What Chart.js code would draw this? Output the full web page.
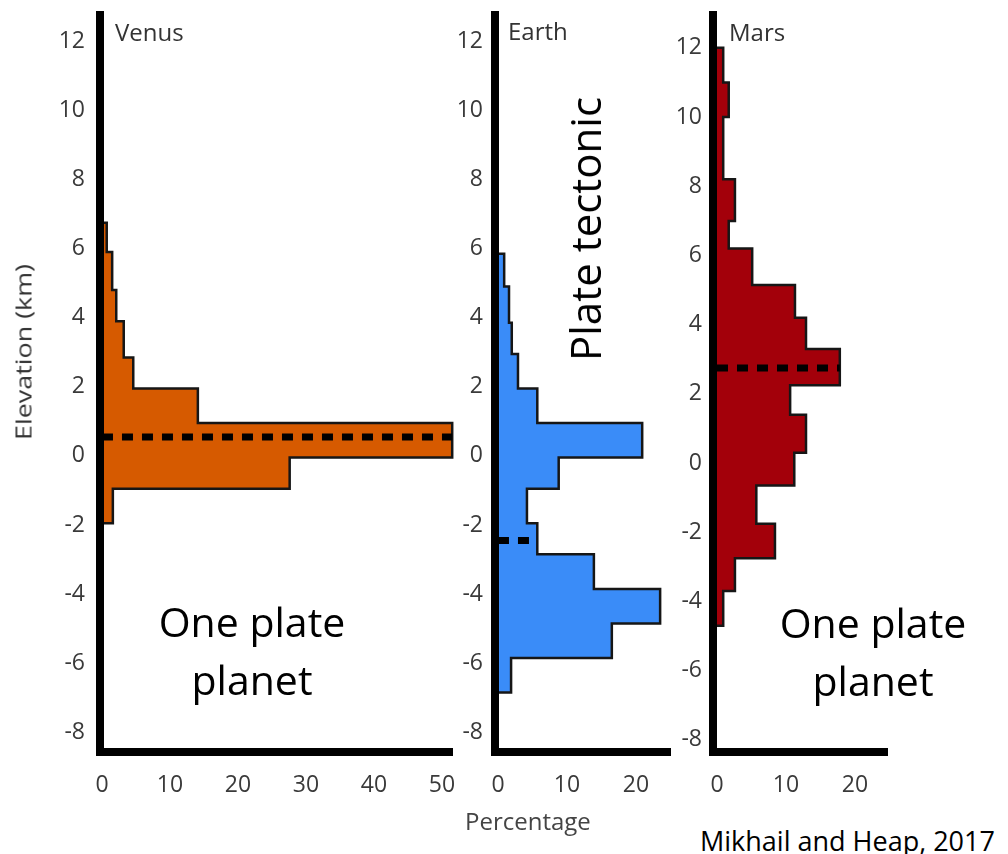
<!DOCTYPE html>
<html>
<head>
<meta charset="utf-8">
<title>Elevation histograms</title>
<script src="https://cdn.jsdelivr.net/npm/chart.js@4.4.1/dist/chart.umd.min.js"></script>
<style>
  body { margin: 0; background: #fff; }
  #wrap { position: relative; width: 1008px; height: 854px; overflow: hidden; font-family: "Open Sans", sans-serif; }
  canvas { position: absolute; top: 0; }
  .lbl { position: absolute; white-space: nowrap; line-height: 1; }
  .planet { font-size: 24px; color: #333; }
  .big { font-size: 41px; line-height: 58px; color: #000; text-align: center; }
</style>
</head>
<body>
<div id="wrap">
  <canvas id="venus" width="470" height="800" style="left:0px"></canvas>
  <canvas id="earth" width="245" height="800" style="left:440px"></canvas>
  <canvas id="mars" width="250" height="800" style="left:650px"></canvas>

  <div class="lbl planet" style="left:115px; top:20px">Venus</div>
  <div class="lbl planet" style="left:508px; top:19px">Earth</div>
  <div class="lbl planet" style="left:729px; top:20px">Mars</div>

  <div class="lbl" style="font-size:21px; color:#333; left:24px; top:352px; transform: translate(-50%, -50%) rotate(-90deg) scale(1.28, 1)">Elevation (km)</div>
  <div class="lbl" style="font-size:24px; color:#444; left:465px; top:809px">Percentage</div>

  <div class="lbl big" style="left:252px; top:592px; transform: translateX(-50%)">One plate<br>planet</div>
  <div class="lbl big" style="left:873px; top:593px; transform: translateX(-50%)">One plate<br>planet</div>
  <div class="lbl big" style="left:585px; top:229px; font-size:42px; line-height:1; transform: translate(-50%, -50%) rotate(-90deg)">Plate tectonic</div>

  <div class="lbl" style="font-size:27px; color:#000; left:700px; top:827px">Mikhail and Heap, 2017</div>
</div>

<script>
// elevation bin edges (km, bottom to top) and share of surface (%) per bin
const venusEdges = [-1.95, -0.95, -0.05, 0.95, 1.95, 2.85, 3.9, 4.8, 5.9, 6.75];
const venusPct   = [1.6, 27.6, 51.5, 14.1, 4.6, 3.2, 2.1, 1.5, 0.7];
const venusMean  = 0.55;

const earthEdges = [-6.85, -5.85, -4.85, -3.85, -2.85, -1.95, -0.95, -0.05, 0.95, 1.95, 2.95, 3.85, 4.9, 5.85];
const earthPct   = [1.9, 16.5, 23.5, 13.9, 5.7, 4.2, 8.8, 20.9, 5.7, 2.9, 2.0, 1.6, 0.9];
const earthMean  = -2.45;

const marsEdges = [-4.7, -3.7, -2.75, -1.75, -0.65, 0.3, 1.4, 2.25, 3.3, 4.2, 5.15, 6.2, 7.0, 8.2, 10.0, 11.0, 12.0];
const marsPct   = [0.9, 2.6, 8.4, 5.7, 11.2, 12.9, 10.6, 17.8, 12.9, 11.3, 5.1, 1.7, 2.6, 0.9, 1.7, 0.9];
const marsMean  = 2.75;

const elevTicks = [-8, -6, -4, -2, 0, 2, 4, 6, 8, 10, 12];
const venusPctTicks = [0, 10, 20, 30, 40, 50];
const earthPctTicks = [0, 10, 20];
const marsPctTicks = [0, 10, 20];

const tickFont = { family: '"Open Sans", sans-serif', size: 23 };
const tickColor = '#3a3a3a';

// outline of a sideways histogram: up the bins, out to each value and back to 0 at the top
function histPoints(edges, pct) {
  const pts = [{ x: 0, y: edges[0] }];
  pct.forEach((p, i) => {
    pts.push({ x: p, y: edges[i] });
    pts.push({ x: p, y: edges[i + 1] });
  });
  pts.push({ x: 0, y: edges[edges.length - 1] });
  return pts;
}

// the dashed mean line runs out to the bar it sits in
function binValueAt(edges, pct, elev) {
  for (let i = 0; i < pct.length; i++) {
    if (elev >= edges[i] && elev < edges[i + 1]) return pct[i];
  }
  return 0;
}

// tick labels must not push the plot area around
function noScalePadding(s) {
  s.paddingTop = 0;
  s.paddingBottom = 0;
  s.paddingLeft = 0;
  s.paddingRight = 0;
}

function drawPanel(id, p) {
  new Chart(document.getElementById(id), {
    type: 'line',
    data: {
      datasets: [
        {
          data: histPoints(p.edges, p.pct),
          borderColor: '#161616',
          borderWidth: 2.5,
          backgroundColor: p.color,
          fill: 'origin',
          pointRadius: 0,
          tension: 0,
          clip: 5,
          order: 2
        },
        {
          data: [{ x: 0, y: p.mean }, { x: binValueAt(p.edges, p.pct, p.mean), y: p.mean }],
          borderColor: '#000',
          borderWidth: 7,
          borderDash: [11, 9],
          borderCapStyle: 'butt',
          fill: false,
          pointRadius: 0,
          clip: 5,
          order: 1
        }
      ]
    },
    options: {
      indexAxis: 'y',
      responsive: false,
      animation: false,
      events: [],
      layout: { padding: { left: 0, top: 15, right: p.padRight, bottom: 0 } },
      plugins: { legend: { display: false }, tooltip: { enabled: false } },
      scales: {
        x: {
          type: 'linear',
          min: p.xMin,
          max: p.xMax,
          grid: { display: false, drawTicks: false },
          border: { display: true, color: '#000', width: 8, z: 1 },
          ticks: { font: tickFont, color: tickColor, padding: 20 },
          afterBuildTicks: s => { s.ticks = p.xTicks.map(v => ({ value: v })); },
          afterFit: s => { s.height = 48; noScalePadding(s); }
        },
        y: {
          type: 'linear',
          min: p.yMin,
          max: p.yMax,
          grid: { display: false, drawTicks: false },
          border: { display: true, color: '#000', width: 8, z: 1 },
          ticks: { font: tickFont, color: tickColor, padding: p.labelPad },
          afterBuildTicks: s => { s.ticks = elevTicks.map(v => ({ value: v })); },
          afterFit: s => { s.width = p.axisLeft; noScalePadding(s); }
        }
      }
    }
  });
}

drawPanel('venus', {
  edges: venusEdges, pct: venusPct, mean: venusMean, color: '#d65a00',
  xMin: -0.29, xMax: 51.47, xTicks: venusPctTicks,
  yMin: -8.57, yMax: 12.76, axisLeft: 100, padRight: 18, labelPad: 15
});
drawPanel('earth', {
  edges: earthEdges, pct: earthPct, mean: earthMean, color: '#3a8cf8',
  xMin: -0.43, xMax: 24.93, xTicks: earthPctTicks,
  yMin: -8.57, yMax: 12.76, axisLeft: 55, padRight: 15, labelPad: 12
});
drawPanel('mars', {
  edges: marsEdges, pct: marsPct, mean: marsMean, color: '#a3000a',
  xMin: -0.58, xMax: 24.64, xTicks: marsPctTicks,
  yMin: -8.35, yMax: 12.95, axisLeft: 63, padRight: 13, labelPad: 11
});
</script>
</body>
</html>
